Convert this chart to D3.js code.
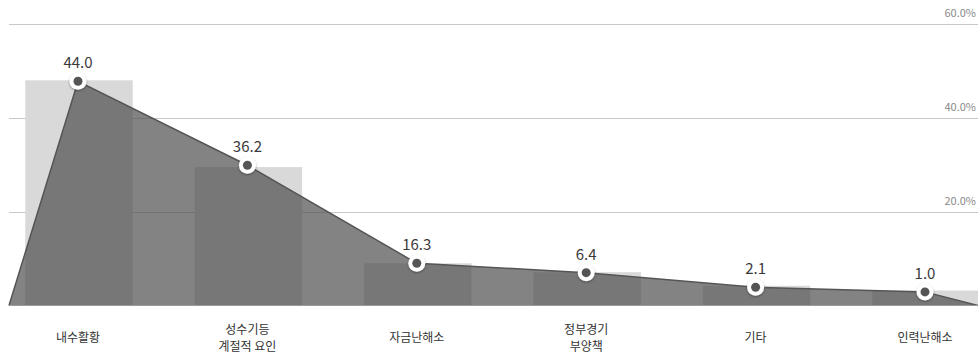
<!DOCTYPE html>
<html>
<head>
<meta charset="utf-8">
<script src="https://cdn.jsdelivr.net/npm/d3@7"></script>
<style>
  body { margin: 0; background: #fff; }
  svg { display: block; font-family: "Noto Sans CJK KR", "Noto Sans", sans-serif; }
</style>
</head>
<body>
<div id="chart"></div>
<script>
// Categories (two-line labels split with "\n").
const categories = ["내수활황", "성수기등\n계절적 요인", "자금난해소", "정부경기\n부양책", "기타", "인력난해소"];
// Light grey bar series (percent).
const barValues = [48.0, 29.5, 9.0, 7.1, 4.2, 3.2];
// Area/line series (percent).
const lineValues = [47.8, 29.9, 9.0, 7.0, 3.9, 2.9];
// Value labels shown above the markers.
const valueLabels = ["44.0", "36.2", "16.3", "6.4", "2.1", "1.0"];
// Right axis ticks.
const axisTicks = [20, 40, 60];

const width = 978;
const height = 355;
const plotLeft = 9;
const plotRight = 978;

const svg = d3.select("#chart")
  .append("svg")
  .attr("width", width)
  .attr("height", height);

/**
 * Scales.
 */
const x = d3.scalePoint()
  .domain(categories)
  .range([78, 925]);

const y = d3.scaleLinear()
  .domain([0, 60])
  .range([305.5, 24]);

const barWidth = 107.5;

/**
 * Gridlines and right axis labels.
 */
svg.append("g")
  .selectAll("line")
  .data(axisTicks)
  .join("line")
  .attr("x1", plotLeft)
  .attr("x2", plotRight)
  .attr("y1", (d) => Math.round(y(d)) + 0.5)
  .attr("y2", (d) => Math.round(y(d)) + 0.5)
  .attr("stroke", "#c8c8c8")
  .attr("stroke-width", 1);

svg.append("g")
  .selectAll("text")
  .data(axisTicks)
  .join("text")
  .attr("x", 976)
  .attr("y", (d) => y(d) - 7)
  .attr("text-anchor", "end")
  .attr("font-size", 11)
  .attr("fill", "#8a8a8a")
  .text((d) => d3.format(".1f")(d) + "%");

/**
 * Bars.
 */
svg.append("g")
  .selectAll("rect")
  .data(barValues)
  .join("rect")
  .attr("x", (d, i) => x(categories[i]) - barWidth / 2 + 1)
  .attr("y", (d) => y(d))
  .attr("width", barWidth)
  .attr("height", (d) => y(0) - y(d))
  .attr("fill", "#d9d9d9");

/**
 * Area with line on top.
 */
const areaPoints = [[plotLeft, 0]]
  .concat(lineValues.map((v, i) => [x(categories[i]), v]))
  .concat([[plotRight, 0]]);

svg.append("path")
  .datum(areaPoints)
  .attr("d", d3.area().x((d) => d[0]).y0(y(0)).y1((d) => y(d[1])))
  .attr("fill", "#4c4c4c")
  .attr("fill-opacity", 0.69);

svg.append("path")
  .datum(areaPoints)
  .attr("d", d3.line().x((d) => d[0]).y((d) => y(d[1])))
  .attr("fill", "none")
  .attr("stroke", "#555")
  .attr("stroke-width", 1.5);

// Baseline.
svg.append("line")
  .attr("x1", plotLeft)
  .attr("x2", plotRight)
  .attr("y1", y(0))
  .attr("y2", y(0))
  .attr("stroke", "#9a9a9a")
  .attr("stroke-width", 1);

/**
 * Markers.
 */
const defs = svg.append("defs");
const shadow = defs.append("filter")
  .attr("id", "shadow")
  .attr("x", "-50%").attr("y", "-50%")
  .attr("width", "200%").attr("height", "200%");
shadow.append("feDropShadow")
  .attr("dx", 0).attr("dy", 1)
  .attr("stdDeviation", 1.3)
  .attr("flood-color", "#000")
  .attr("flood-opacity", 0.4);

const markers = svg.append("g")
  .selectAll("g")
  .data(lineValues)
  .join("g")
  .attr("transform", (d, i) => `translate(${x(categories[i])},${y(d)})`);

markers.append("circle")
  .attr("r", 8.5)
  .attr("fill", "#fff")
  .attr("filter", "url(#shadow)");

markers.append("circle")
  .attr("r", 4.5)
  .attr("fill", "#555");

// Value labels.
markers.append("text")
  .attr("y", -13)
  .attr("text-anchor", "middle")
  .attr("font-size", 15)
  .attr("fill", "#3a3a3a")
  .text((d, i) => valueLabels[i]);

/**
 * Category labels (one text element per line).
 */
const catLines = categories.flatMap((c) => {
  const lines = c.split("\n");
  const startY = lines.length > 1 ? 333.5 : 342;
  return lines.map((l, j) => ({ cat: c, text: l, y: startY + j * 17.5 }));
});

svg.append("g")
  .selectAll("text")
  .data(catLines)
  .join("text")
  .attr("x", (d) => x(d.cat))
  .attr("y", (d) => d.y)
  .attr("text-anchor", "middle")
  .attr("font-size", 12)
  .attr("fill", "#333")
  .text((d) => d.text);
</script>
</body>
</html>
